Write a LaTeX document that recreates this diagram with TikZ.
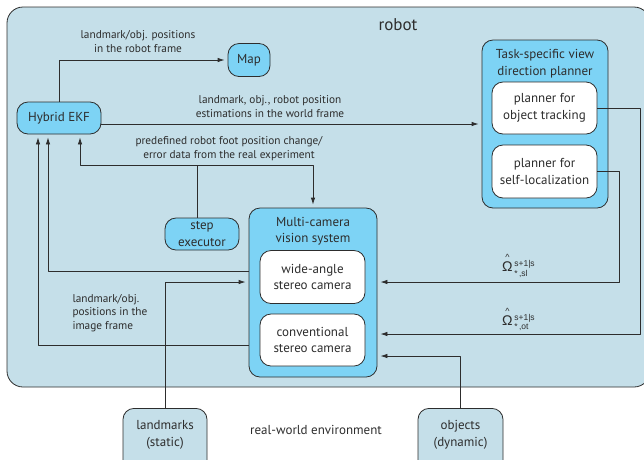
\documentclass[tikz,border=0pt]{standalone}
\usepackage{fontspec}
\usepackage{amsmath}
\setmainfont{PT Sans}
\newfontfamily\arialfont{Liberation Sans}
\usetikzlibrary{arrows.meta}
\definecolor{robotbg}{RGB}{197,223,233}
\definecolor{boxbg}{RGB}{125,211,245}
\definecolor{ink}{RGB}{45,45,45}
\newcommand\omlabel[1]{$\overset{\text{\fontsize{9}{9}\selectfont\^{}}}{\text{\fontsize{14}{14}\selectfont Ω}}\,{}^{\text{\fontsize{8.5}{9}\selectfont s+1|s}}_{\text{\fontsize{8.5}{9}\selectfont *\,,#1}}$}
\begin{document}
\begin{tikzpicture}[x=1pt, y=-1pt, font=\fontsize{13}{16.5}\selectfont, line join=round, >={Latex[length=7pt,width=4.5pt]},
	box/.style={draw=ink, line width=.8pt, rounded corners=11pt, fill=boxbg, align=center, inner sep=0pt, text=ink},
	inbox/.style={box, fill=white},
	envbox/.style={box, fill=robotbg, anchor=north, minimum width=84, minimum height=75},
	lbl/.style={font=\fontsize{11.3}{13.5}\selectfont, align=center, text=ink},
	omega/.style={font=\arialfont, text=ink, inner sep=0pt, anchor=west},
	flow/.style={->, draw=ink, line width=.8pt, shorten >=3pt}]
	\clip[use as bounding box] (0,0) rectangle (644,459);
	% robot frame
	\node[box, fill=robotbg, rounded corners=16pt, minimum width=643, minimum height=380] (robot) at (328.5,197) {};
	\node[font=\fontsize{17}{20}\selectfont, text=ink] (robotlbl) at (398,25) {robot};
	\node[box, minimum width=42, minimum height=33] (map) at (249,60) {Map};
	\node[box, minimum width=84, minimum height=32] (ekf) at (59,118) {Hybrid EKF};
	% view direction planner
	\node[box, minimum width=126, minimum height=168] (planner) at (545,124) {};
	\node[align=center, text=ink] (plannerlbl) at (545,63.5) {Task-specific view\\direction planner};
	\node[inbox, minimum width=105, minimum height=52] (track) at (544.5,108) {planner for\\object tracking};
	\node[inbox, minimum width=105, minimum height=53] (selfloc) at (544.5,171.5) {planner for\\self-localization};
	\node[box, minimum width=74, minimum height=32] (step) at (202,234) {step\\executor};
	% cameras
	\node[box, minimum width=128, minimum height=169] (mcs) at (313,292.5) {};
	\node[align=center, text=ink] (mcslbl) at (313,231) {Multi-camera\\vision system};
	\node[inbox, minimum width=105, minimum height=53] (wide) at (312.5,277) {wide-angle\\stereo camera};
	\node[inbox, minimum width=105, minimum height=52] (conv) at (312.5,340) {conventional\\stereo camera};
	% environment
	\node[envbox, label={[align=center, text=ink, anchor=north, yshift=-9pt]north:landmarks\\(static)}] (land) at (165,408) {};
	\node[envbox, minimum width=85, label={[align=center, text=ink, anchor=north, yshift=-9pt]north:objects\\(dynamic)}] (obj) at (460.5,408) {};
	\node[font=\fontsize{13}{15}\selectfont, text=ink] (envlbl) at (316,430) {real-world environment};

	\draw[flow] (ekf.north) |- (map.west);
	\node[lbl] (maplbl) at (138,41.5) {landmark/obj. positions\\in the robot frame};
	\draw[flow] (ekf.east |- planner.west) -- (planner.west);
	\node[lbl] (worldlbl) at (270,106.5) {landmark, obj., robot position\\estimations in the world frame};
	\draw[flow] ([xshift=-5pt]step.north) -- ++(0,-52) -| ([xshift=21pt]ekf.south);
	\draw[flow] ([xshift=-5pt]step.north) ++(0,-52) -| (mcs.north);
	\node[lbl] (steplbl) at (229,148.5) {predefined robot foot position change/\\error data from the real experiment};
	\draw[flow] (mcs.west |- 0,271) -| ([xshift=-11pt]ekf.south);
	\draw[flow] (mcs.west |- 0,345) -| ([xshift=-21pt]ekf.south);
	\node[lbl, align=left, anchor=west] (imglbl) at (69,313) {landmark/obj.\\positions in the\\image frame};
	\draw[flow] (land.north) |- (mcs.west |- 0,282);
	\draw[flow] (obj.north) |- (mcs.east |- 0,356);
	\draw[flow] (selfloc.east) -- ++(22,0) |- (mcs.east |- 0,282);
	\draw[flow] (track.east) -- ++(43,0) |- (mcs.east |- 0,334);
	\node[omega] (omsl) at (502,265) {\omlabel{sl}};
	\node[omega] (omot) at (502,319) {\omlabel{ot}};
\end{tikzpicture}
\end{document}
